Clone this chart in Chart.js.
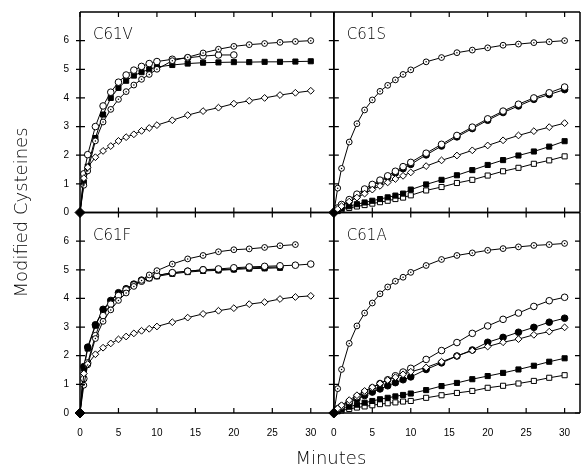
<!DOCTYPE html>
<html><head><meta charset="utf-8">
<script src="https://cdn.jsdelivr.net/npm/chart.js@4/dist/chart.umd.min.js"></script>
<style>html,body{margin:0;padding:0;background:#fff}canvas{display:block}</style>
</head><body>
<canvas id="c" width="586" height="471"></canvas>
<script>
// ---- data ----
const minutes = [0, 0.5, 1, 2, 3, 4, 5, 6, 7, 8, 9, 10, 12, 14, 16, 18, 20, 22, 24, 26, 28, 30];
const xTickValues = [0, 5, 10, 15, 20, 25, 30];
const yTickValues = [0, 1, 2, 3, 4, 5, 6];
const panelNames = ['C61V', 'C61S', 'C61F', 'C61A'];
const xAxisTitle = 'Minutes';
const yAxisTitle = 'Modified Cysteines';

// C61V
const v_dotted   = [0, 0.95, 1.45, 2.5, 3.16, 3.6, 3.95, 4.22, 4.45, 4.65, 4.82, 5.0, 5.3, 5.42, 5.57, 5.7, 5.8, 5.86, 5.9, 5.94, 5.97, 6.0];
const v_open     = [0, 1.35, 2.02, 3.0, 3.72, 4.2, 4.55, 4.8, 4.97, 5.1, 5.2, 5.27, 5.35, 5.4, 5.46, 5.5, 5.5];
const v_filledSq = [0, 1.05, 1.6, 2.6, 3.42, 4.0, 4.35, 4.6, 4.78, 4.9, 5.0, 5.08, 5.15, 5.2, 5.23, 5.24, 5.25, 5.25, 5.26, 5.26, 5.27, 5.28];
const v_diamond  = [0, 1.2, 1.58, 1.93, 2.15, 2.32, 2.5, 2.63, 2.73, 2.85, 2.95, 3.05, 3.22, 3.4, 3.54, 3.66, 3.8, 3.9, 4.0, 4.1, 4.18, 4.25];
// C61S
const s_dotted     = [0, 0.85, 1.54, 2.46, 3.1, 3.58, 3.93, 4.23, 4.44, 4.63, 4.82, 4.98, 5.26, 5.41, 5.58, 5.67, 5.75, 5.84, 5.88, 5.93, 5.96, 6.0];
const s_open       = [0, 0.16, 0.28, 0.45, 0.64, 0.82, 0.98, 1.13, 1.28, 1.44, 1.6, 1.75, 2.07, 2.38, 2.69, 2.98, 3.27, 3.54, 3.78, 4.0, 4.18, 4.38];
const s_filledCirc = [0, 0.13, 0.24, 0.4, 0.58, 0.76, 0.93, 1.08, 1.23, 1.38, 1.53, 1.68, 2.01, 2.32, 2.64, 2.93, 3.22, 3.49, 3.72, 3.95, 4.12, 4.29];
const s_diamond    = [0, 0.12, 0.22, 0.38, 0.52, 0.66, 0.8, 0.93, 1.05, 1.17, 1.28, 1.4, 1.62, 1.82, 1.99, 2.17, 2.34, 2.52, 2.69, 2.84, 2.98, 3.12];
const s_filledSq   = [0, 0.08, 0.14, 0.22, 0.29, 0.35, 0.41, 0.47, 0.53, 0.59, 0.66, 0.8, 0.98, 1.14, 1.3, 1.48, 1.66, 1.83, 1.99, 2.13, 2.3, 2.49];
const s_openSq     = [0, 0.05, 0.1, 0.16, 0.21, 0.26, 0.31, 0.36, 0.41, 0.47, 0.52, 0.6, 0.77, 0.89, 1.03, 1.14, 1.29, 1.44, 1.56, 1.7, 1.82, 1.96];
// C61F
const f_dotted     = [0, 0.97, 1.68, 2.6, 3.2, 3.6, 3.93, 4.19, 4.42, 4.63, 4.82, 4.97, 5.2, 5.38, 5.5, 5.63, 5.7, 5.73, 5.78, 5.84, 5.88];
const f_filledCirc = [0, 1.62, 2.3, 3.08, 3.62, 3.93, 4.2, 4.34, 4.5, 4.64, 4.73, 4.8, 4.89, 4.95, 5.0, 5.0, 5.03, 5.07, 5.08, 5.1];
const f_filledSq   = [0, 1.55, 2.25, 3.05, 3.58, 3.9, 4.17, 4.32, 4.48, 4.62, 4.7, 4.77, 4.86, 4.92, 4.96, 4.98, 5.01, 5.04, 5.05, 5.07];
const f_open       = [0, 1.2, 1.75, 2.7, 3.4, 3.8, 4.1, 4.3, 4.47, 4.6, 4.72, 4.8, 4.9, 4.95, 5.0, 5.03, 5.07, 5.1, 5.12, 5.14, 5.16, 5.2];
const f_diamond    = [0, 1.38, 1.71, 2.05, 2.28, 2.43, 2.57, 2.67, 2.78, 2.87, 2.94, 3.02, 3.17, 3.33, 3.46, 3.57, 3.66, 3.8, 3.87, 3.98, 4.05, 4.09];
// C61A
const a_dotted     = [0, 0.85, 1.52, 2.43, 3.04, 3.49, 3.84, 4.16, 4.4, 4.6, 4.74, 4.91, 5.15, 5.36, 5.5, 5.59, 5.68, 5.74, 5.8, 5.85, 5.88, 5.92];
const a_open       = [0, 0.15, 0.24, 0.4, 0.57, 0.73, 0.88, 1.03, 1.16, 1.3, 1.43, 1.56, 1.87, 2.18, 2.46, 2.78, 3.04, 3.27, 3.49, 3.72, 3.92, 4.04];
const a_filledCirc = [0, 0.12, 0.21, 0.35, 0.49, 0.61, 0.73, 0.84, 0.95, 1.06, 1.16, 1.26, 1.52, 1.75, 1.99, 2.2, 2.47, 2.64, 2.82, 2.99, 3.17, 3.31];
const a_diamond    = [0, 0.16, 0.27, 0.45, 0.62, 0.77, 0.9, 1.03, 1.15, 1.25, 1.35, 1.44, 1.59, 1.79, 1.99, 2.18, 2.32, 2.47, 2.58, 2.73, 2.84, 2.99];
const a_filledSq   = [0, 0.09, 0.14, 0.22, 0.29, 0.36, 0.42, 0.48, 0.53, 0.58, 0.63, 0.68, 0.8, 0.94, 1.05, 1.18, 1.29, 1.4, 1.52, 1.65, 1.79, 1.91];
const a_openSq     = [0, 0.06, 0.09, 0.14, 0.19, 0.23, 0.27, 0.31, 0.34, 0.37, 0.4, 0.42, 0.53, 0.62, 0.7, 0.77, 0.88, 0.95, 1.03, 1.12, 1.23, 1.32];

// ---- markers ----
const markers = {
  dotted:     {style: 'circle', r: 2.9, bg: '#fff'},
  open:       {style: 'circle', r: 3.3, bg: '#fff'},
  filledCirc: {style: 'circle', r: 3.3, bg: '#000'},
  diamond:    {style: 'rectRot', r: 3.4, bg: '#fff'},
  filledSq:   {style: 'rect', r: 3.6, bg: '#000'},
  openSq:     {style: 'rect', r: 3.6, bg: '#fff'}
};
const panelAxes = {
  C61V: ['xL', 'yT'], C61S: ['xR', 'yT'], C61F: ['xL', 'yB'], C61A: ['xR', 'yB']
};
function series(panel, kind, values) {
  const m = markers[kind];
  const isDiamond = kind === 'diamond';
  return {
    label: panel + ' ' + kind,
    kind: kind,
    data: values.map((v, i) => ({x: minutes[i], y: v})),
    xAxisID: panelAxes[panel][0],
    yAxisID: panelAxes[panel][1],
    borderColor: '#000', borderWidth: 1, tension: 0, fill: false, clip: false,
    pointStyle: m.style,
    pointRadius: ctx => ctx.dataIndex === 0 ? (isDiamond ? 5 : 0) : m.r,
    pointBackgroundColor: ctx => (ctx.dataIndex === 0 && isDiamond) ? '#000' : m.bg,
    pointBorderColor: '#000', pointBorderWidth: 1,
    order: isDiamond ? -1 : 0
  };
}
const datasets = [
  series('C61V', 'dotted', v_dotted), series('C61V', 'open', v_open),
  series('C61V', 'filledSq', v_filledSq), series('C61V', 'diamond', v_diamond),
  series('C61S', 'dotted', s_dotted), series('C61S', 'open', s_open),
  series('C61S', 'filledCirc', s_filledCirc), series('C61S', 'diamond', s_diamond),
  series('C61S', 'filledSq', s_filledSq), series('C61S', 'openSq', s_openSq),
  series('C61F', 'dotted', f_dotted), series('C61F', 'open', f_open),
  series('C61F', 'filledSq', f_filledSq), series('C61F', 'filledCirc', f_filledCirc),
  series('C61F', 'diamond', f_diamond),
  series('C61A', 'dotted', a_dotted), series('C61A', 'open', a_open),
  series('C61A', 'filledCirc', a_filledCirc), series('C61A', 'diamond', a_diamond),
  series('C61A', 'filledSq', a_filledSq), series('C61A', 'openSq', a_openSq)
];

// ---- axes ----
const tickFont = {family: "'Liberation Sans', Arial, sans-serif", size: 10};
function xAxis(max) {
  return {
    type: 'linear', position: 'bottom', stack: 'xs', stackWeight: max,
    min: 0, max: max,
    ticks: {stepSize: 5, autoSkip: false, maxRotation: 0, color: '#000', font: tickFont, padding: 14},
    afterBuildTicks: s => { s.ticks = xTickValues.map(v => ({value: v})); },
    afterFit: s => { s.height = 58; s.paddingLeft = 0; s.paddingRight = 0; },
    grid: {display: false, drawTicks: false}, border: {display: false}
  };
}
function yAxis() {
  return {
    type: 'linear', position: 'left', stack: 'ys', stackWeight: 1,
    min: 0, max: 7,
    ticks: {stepSize: 1, autoSkip: false, color: '#000', font: tickFont, padding: 11},
    afterBuildTicks: s => { s.ticks = yTickValues.map(v => ({value: v})); },
    afterFit: s => { s.width = 80; s.paddingTop = 0; s.paddingBottom = 0; },
    grid: {display: false, drawTicks: false}, border: {display: false}
  };
}

const dotPlugin = {
  id: 'dotCenters',
  afterDatasetsDraw(chart) {
    const ctx = chart.ctx;
    ctx.save();
    ctx.fillStyle = '#000';
    chart.data.datasets.forEach((ds, i) => {
      if (ds.kind !== 'dotted') return;
      chart.getDatasetMeta(i).data.forEach((el, j) => {
        if (j === 0) return;
        ctx.beginPath(); ctx.arc(el.x, el.y, 0.75, 0, Math.PI * 2); ctx.fill();
      });
    });
    ctx.restore();
  }
};

const framePlugin = {
  id: 'frame',
  afterDraw(chart) {
    const ctx = chart.ctx;
    const sc = chart.scales;
    ctx.save();
    ctx.strokeStyle = '#000';
    panelNames.forEach(name => {
      const xs = sc[panelAxes[name][0]], ys = sc[panelAxes[name][1]];
      const L = xs.left, R = xs.right, T = ys.top, B = ys.bottom;
      const hasRight = R < chart.width - 2;
      ctx.lineWidth = 1.5;
      ctx.beginPath();
      ctx.moveTo(L, T); ctx.lineTo(R, T);
      ctx.moveTo(L, B); ctx.lineTo(R, B);
      ctx.moveTo(L, T); ctx.lineTo(L, B);
      if (hasRight) { ctx.moveTo(R, T); ctx.lineTo(R, B); }
      ctx.stroke();
      ctx.lineWidth = 1.2;
      ctx.beginPath();
      xTickValues.forEach(v => {
        const px = xs.getPixelForValue(v);
        ctx.moveTo(px, T); ctx.lineTo(px, T + 5);
        ctx.moveTo(px, B); ctx.lineTo(px, B - 5);
      });
      yTickValues.forEach(v => {
        const py = ys.getPixelForValue(v);
        ctx.moveTo(xs.id === 'xL' ? L - 4 : L, py); ctx.lineTo(L + 5, py);
        if (hasRight) { ctx.moveTo(R, py); ctx.lineTo(R - 5, py); }
      });
      ctx.stroke();
      ctx.fillStyle = '#000';
      ctx.font = "200 15px 'DejaVu Sans', sans-serif";
      ctx.textBaseline = 'alphabetic';
      ctx.textAlign = 'left';
      ctx.fillText(name, L + 13, T + 27);
    });
    ctx.fillStyle = '#000';
    ctx.font = "200 18px 'DejaVu Sans', sans-serif";
    ctx.textAlign = 'center';
    ctx.textBaseline = 'middle';
    ctx.fillText(xAxisTitle, sc.xR.left - 3, 459);
    ctx.translate(22, (sc.yT.top + sc.yB.bottom) / 2);
    ctx.rotate(-Math.PI / 2);
    ctx.fillText(yAxisTitle, 0, 0);
    ctx.restore();
  }
};

new Chart(document.getElementById('c'), {
  type: 'line',
  data: {datasets},
  options: {
    responsive: false, animation: false, devicePixelRatio: 1,
    layout: {padding: {top: 12, left: 0, right: 0, bottom: 0}},
    plugins: {legend: {display: false}, tooltip: {enabled: false}, title: {display: false}},
    scales: {
      xL: xAxis(33),
      xR: xAxis(32),
      yB: yAxis(),
      yT: yAxis()
    }
  },
  plugins: [dotPlugin, framePlugin]
});
</script>
</body></html>
